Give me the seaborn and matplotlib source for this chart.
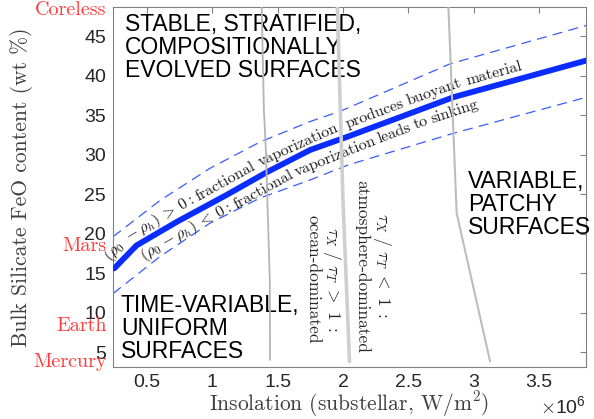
import numpy as np
import pandas as pd
import matplotlib
matplotlib.use("Agg")
import matplotlib.pyplot as plt
import seaborn as sns

# main buoyancy boundary and its uncertainty band (insolation in W/m2, FeO in wt %)
curve_insolation = [0.25e6, 0.42e6, 0.73e6, 1.11e6, 1.42e6, 1.75e6, 2.04e6, 2.85e6, 3.88e6]
curve_feo = [15.6, 18.5, 21.5, 24.9, 27.8, 30.6, 32.3, 37.3, 42.0]
upper_insolation = [0.24e6, 0.6e6, 0.98e6, 1.365e6, 1.75e6, 1.98e6, 2.82e6, 3.87e6]
upper_feo = [19.6, 24.2, 28.25, 31.6, 34.2, 35.5, 41.5, 46.4]
lower_insolation = [0.24e6, 0.6e6, 0.98e6, 1.365e6, 1.75e6, 2.04e6, 2.845e6, 3.87e6]
lower_feo = [12.4, 17.1, 21.3, 24.5, 26.8, 28.7, 32.7, 37.3]

# grey regime boundaries
lineA_insolation = [1.378e6, 1.395e6, 1.41e6, 1.44e6, 1.442e6]
lineA_feo = [48.7, 35.6, 30.6, 14.1, 4.0]
lineB_insolation = [1.957e6, 2.0e6, 2.05e6]
lineB_feo = [48.7, 24.2, 3.8]
lineC_insolation = [2.807e6, 2.87e6, 3.126e6]
lineC_feo = [48.7, 22.6, 3.8]

# planet reference labels on the FeO axis
planet_names = ["Coreless", "Mars", "Earth", "Mercury"]
planet_feo = [47.7, 17.8, 7.7, 3.1]

xticks = [0.5e6, 1.0e6, 1.5e6, 2.0e6, 2.5e6, 3.0e6, 3.5e6]
xtick_labels = ["0.5", "1", "1.5", "2", "2.5", "3", "3.5"]
yticks = [5, 10, 15, 20, 25, 30, 35, 40, 45]

sns.set_theme(style="white")
plt.rcParams["font.family"] = ["Liberation Sans", "DejaVu Sans"]
plt.rcParams["mathtext.fontset"] = "cm"

serif = "cmr10"
red = "#ff3b3b"
blue = "#0a2cff"

fig = plt.figure(figsize=(5.94, 4.19), dpi=100)
ax = fig.add_axes([113 / 594, 1 - 367 / 419, 473 / 594, 360 / 419])

df_curve = pd.DataFrame({"insolation": curve_insolation, "feo": curve_feo})
df_up = pd.DataFrame({"insolation": upper_insolation, "feo": upper_feo})
df_lo = pd.DataFrame({"insolation": lower_insolation, "feo": lower_feo})

sns.lineplot(data=df_up, x="insolation", y="feo", sort=False, estimator=None, ax=ax,
             color="#3a5cff", lw=0.9, linestyle=(0, (8, 5)), zorder=2)
sns.lineplot(data=df_lo, x="insolation", y="feo", sort=False, estimator=None, ax=ax,
             color="#3a5cff", lw=0.9, linestyle=(0, (8, 5)), zorder=2)
sns.lineplot(data=df_curve, x="insolation", y="feo", sort=False, estimator=None, ax=ax,
             color=blue, lw=4.2, zorder=3)

sns.lineplot(x=lineA_insolation, y=lineA_feo, sort=False, estimator=None, ax=ax,
             color="#b5b5b5", lw=1.3, zorder=4)
sns.lineplot(x=lineB_insolation, y=lineB_feo, sort=False, estimator=None, ax=ax,
             color="#cfcfcf", lw=2.6, zorder=4)
sns.lineplot(x=lineC_insolation, y=lineC_feo, sort=False, estimator=None, ax=ax,
             color="#bdbdbd", lw=1.5, zorder=4)

ax.set_xlim(0.24e6, 3.86e6)
ax.set_ylim(3.1, 48.7)
ax.set_xticks(xticks)
ax.set_xticklabels(xtick_labels)
ax.set_yticks(yticks)
ax.tick_params(direction="in", top=True, right=True, length=4, width=0.8,
               color="#808080", labelsize=14, labelcolor="#262626", pad=5)
for sp in ax.spines.values():
    sp.set_color("#808080")
    sp.set_linewidth(0.8)

ax.set_xlabel("Insolation (substellar, W/m$^2$)", fontfamily=serif, fontsize=15.5,
              color="#404040", labelpad=-1)
ax.set_ylabel("Bulk Silicate FeO content (wt %)", fontfamily=serif, fontsize=15.5,
              color="#404040")
ax.yaxis.set_label_coords(-0.17, 0.5)
fig.text(586 / 594, 1 - 413 / 419, r"$\times\mathdefault{10^{6}}$", ha="right",
         va="baseline", fontsize=14, color="#262626")

for name, v in zip(planet_names, planet_feo):
    ax.text(-0.013, v, name, transform=ax.get_yaxis_transform(), ha="right",
            va="baseline", fontfamily=serif, fontsize=14.5, color=red, clip_on=False)

# regime labels
ax.text(0.332e6, 47.9, "STABLE, STRATIFIED,\nCOMPOSITIONALLY\nEVOLVED SURFACES",
        ha="left", va="top", fontsize=16.5, linespacing=1.0, color="black")
ax.text(0.30e6, 12.4, "TIME-VARIABLE,\nUNIFORM\nSURFACES",
        ha="left", va="top", fontsize=16.5, linespacing=1.0, color="black")
ax.text(2.96e6, 28.1, "VARIABLE,\nPATCHY\nSURFACES",
        ha="left", va="top", fontsize=16.5, linespacing=1.0, color="black")

ax.text(1.855e6, 14.2, "$\\tau_X\\ /\\ \\tau_T\\ >\\ 1\\ :$\nocean-dominated", rotation=-90,
        ha="center", va="center", multialignment="center", fontfamily=serif,
        fontsize=12.5, linespacing=1.05)
ax.text(2.234e6, 15.9, "$\\tau_X\\ /\\ \\tau_T\\ <\\ 1\\ :$\natmosphere-dominated", rotation=-90,
        ha="center", va="center", multialignment="center", fontfamily=serif,
        fontsize=12.5, linespacing=1.05)


def text_along(chunks, x_start, offset_px, size=11.5, gap=4):
    # lay words along the main curve, each rotated to the local chord
    fig.canvas.draw()
    r = fig.canvas.get_renderer()
    xd = np.linspace(curve_insolation[0], curve_insolation[-1], 600)
    yd = np.interp(xd, curve_insolation, curve_feo)
    pts = ax.transData.transform(np.column_stack([xd, yd]))
    seg = np.hypot(*np.diff(pts, axis=0).T)
    s = np.concatenate([[0], np.cumsum(seg)])
    pos = np.interp(x_start, xd, s)
    for ch in chunks:
        t = ax.text(0, 0, ch, fontfamily=serif, fontsize=size, color="#1a1a1a",
                    ha="left", va="baseline", rotation_mode="anchor")
        w = t.get_window_extent(renderer=r).width
        p0 = np.array([np.interp(pos, s, pts[:, 0]), np.interp(pos, s, pts[:, 1])])
        p1 = np.array([np.interp(pos + w, s, pts[:, 0]), np.interp(pos + w, s, pts[:, 1])])
        a = np.arctan2(p1[1] - p0[1], p1[0] - p0[0])
        nrm = np.array([-np.sin(a), np.cos(a)])
        pd_ = ax.transData.inverted().transform(p0 + offset_px * nrm)
        t.set_position(pd_)
        t.set_rotation(np.degrees(a))
        pos += w + gap


text_along([r"$(\rho_0$", r"$-\:\rho_h)\:>\:\mathbf{0:}$", "fractional", "vaporization", "",
            "produces", "buoyant", "material"], 0.255e6, 8)
text_along([r"$(\rho_0$", r"$-\:\rho_h)\:<\:\mathbf{0:}$", "fractional", "vaporization",
            "leads", "to", "sinking"], 0.41e6, -17)

fig.savefig("out.png", dpi=100)
